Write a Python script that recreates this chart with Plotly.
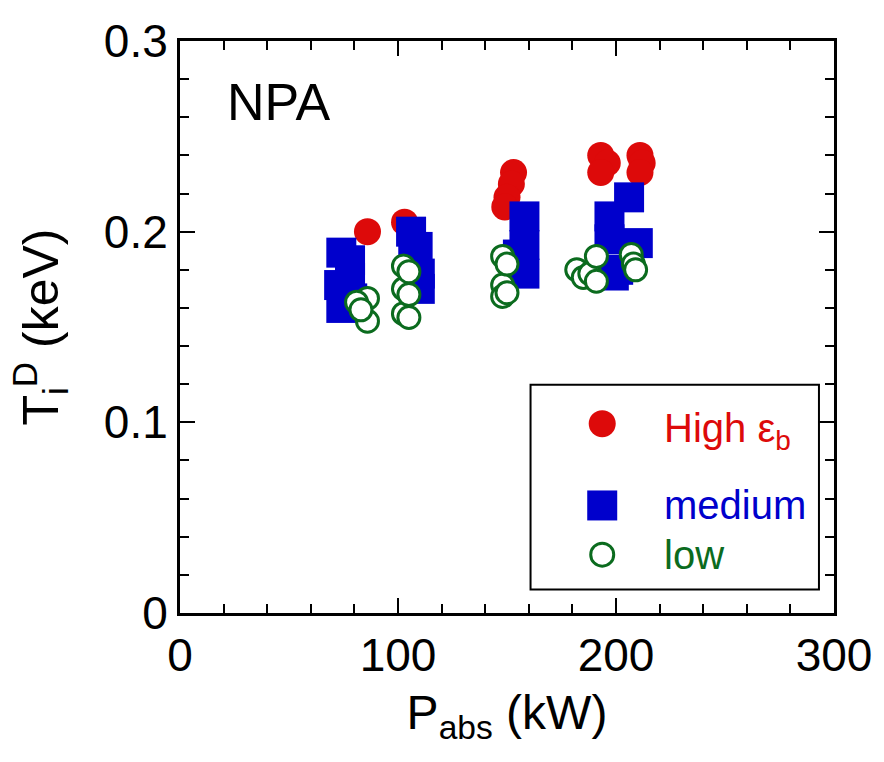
import plotly.graph_objects as go

# ---- data ----
high_x = [86, 103, 153, 152, 150, 149, 193, 196, 193, 211, 212, 211]
high_y = [0.200, 0.205, 0.231, 0.225, 0.218, 0.213, 0.240, 0.236, 0.231, 0.240, 0.236, 0.231]

med_x = [74, 78, 73, 74, 78, 79, 106, 109, 110, 110, 107, 158, 158, 158, 155, 206, 197, 197, 201, 210, 199]
med_y = [0.189, 0.185, 0.172, 0.160, 0.176, 0.165, 0.200, 0.192, 0.178, 0.170, 0.185, 0.208, 0.193, 0.178, 0.188, 0.218, 0.208, 0.196, 0.180, 0.194, 0.177]

low_x = [86, 86, 81, 83, 102.5, 102.5, 102.5, 105, 105, 105, 148, 148, 148, 150, 150, 182, 185, 188, 191, 191, 207, 208, 209]
low_y = [0.165, 0.153, 0.163, 0.159, 0.182, 0.170, 0.157, 0.179, 0.167, 0.155, 0.187, 0.172, 0.166, 0.183, 0.168, 0.180, 0.176, 0.178, 0.187, 0.174, 0.188, 0.183, 0.180]

x_ticks = [0, 100, 200, 300]
y_ticks = [0, 0.1, 0.2, 0.3]
y_tick_text = ["0", "0.1", "0.2", "0.3"]

RED = "#dd0a0a"
BLUE = "#0000cc"
GREEN = "#0b6b1e"
FONT = "Liberation Sans, Arial, sans-serif"

fig = go.Figure()
fig.add_trace(go.Scatter(x=high_x, y=high_y, mode="markers", showlegend=False,
                         marker=dict(symbol="circle", size=27, color=RED, line=dict(width=0))))
fig.add_trace(go.Scatter(x=med_x, y=med_y, mode="markers", showlegend=False,
                         marker=dict(symbol="square", size=30, color=BLUE, line=dict(width=0))))
fig.add_trace(go.Scatter(x=low_x, y=low_y, mode="markers", showlegend=False,
                         marker=dict(symbol="circle", size=22, color="white", line=dict(width=3, color=GREEN))))

# manual legend markers on an overlay axis spanning the plot area (0..1)
leg_x = [0.6456, 0.6456, 0.6456]
leg_y = [0.331, 0.188, 0.102]
fig.add_trace(go.Scatter(x=[leg_x[0]], y=[leg_y[0]], xaxis="x2", yaxis="y2", mode="markers", showlegend=False,
                         marker=dict(symbol="circle", size=27, color=RED)))
fig.add_trace(go.Scatter(x=[leg_x[1]], y=[leg_y[1]], xaxis="x2", yaxis="y2", mode="markers", showlegend=False,
                         marker=dict(symbol="square", size=30, color=BLUE)))
fig.add_trace(go.Scatter(x=[leg_x[2]], y=[leg_y[2]], xaxis="x2", yaxis="y2", mode="markers", showlegend=False,
                         marker=dict(symbol="circle", size=23, color="white", line=dict(width=3, color=GREEN))))

axis_common = dict(showgrid=False, zeroline=False, showline=True, linecolor="black", linewidth=3,
                   mirror="ticks", ticks="inside", tickcolor="black", tickwidth=2, ticklen=15,
                   tickfont=dict(family=FONT, size=46, color="black"))

fig.update_layout(
    width=884, height=762,
    margin=dict(l=180, r=46, t=41, b=149),
    paper_bgcolor="white", plot_bgcolor="white",
    font=dict(family=FONT, color="black"),
    xaxis=dict(range=[0, 300], tickvals=x_ticks, ticktext=[str(v) for v in x_ticks],
               minor=dict(dtick=20, ticks="inside", ticklen=9, tickwidth=2, tickcolor="black"),
               title=dict(text="P<sub>abs</sub> (kW)", font=dict(family=FONT, size=48), standoff=16),
               **axis_common),
    yaxis=dict(range=[0, 0.3], tickvals=y_ticks, ticktext=y_tick_text,
               minor=dict(dtick=0.02, ticks="inside", ticklen=9, tickwidth=2, tickcolor="black"),
               title=dict(text="T<sub>i</sub><sup>D</sup> (keV)", font=dict(family=FONT, size=50), standoff=30),
               **axis_common),
    xaxis2=dict(overlaying="x", range=[0, 1], visible=False),
    yaxis2=dict(overlaying="y", range=[0, 1], visible=False),
    shapes=[dict(type="rect", xref="paper", yref="paper", x0=0.536, x1=0.977, y0=0.041, y1=0.399,
                 line=dict(color="black", width=2), fillcolor="rgba(0,0,0,0)", layer="below")],
    annotations=[
        dict(text="NPA", xref="paper", yref="paper", x=0.151, y=0.894, xanchor="center", yanchor="middle",
             showarrow=False, font=dict(family=FONT, size=52, color="black")),
        dict(text="High ε<sub>b</sub>", xref="paper", yref="paper", x=0.737, y=0.318, xanchor="left",
             yanchor="middle", showarrow=False, font=dict(family=FONT, size=40, color=RED)),
        dict(text="medium", xref="paper", yref="paper", x=0.737, y=0.188, xanchor="left", yanchor="middle",
             showarrow=False, font=dict(family=FONT, size=40, color=BLUE)),
        dict(text="low", xref="paper", yref="paper", x=0.737, y=0.102, xanchor="left", yanchor="middle",
             showarrow=False, font=dict(family=FONT, size=40, color=GREEN)),
    ],
)

fig.write_html("out.html")
